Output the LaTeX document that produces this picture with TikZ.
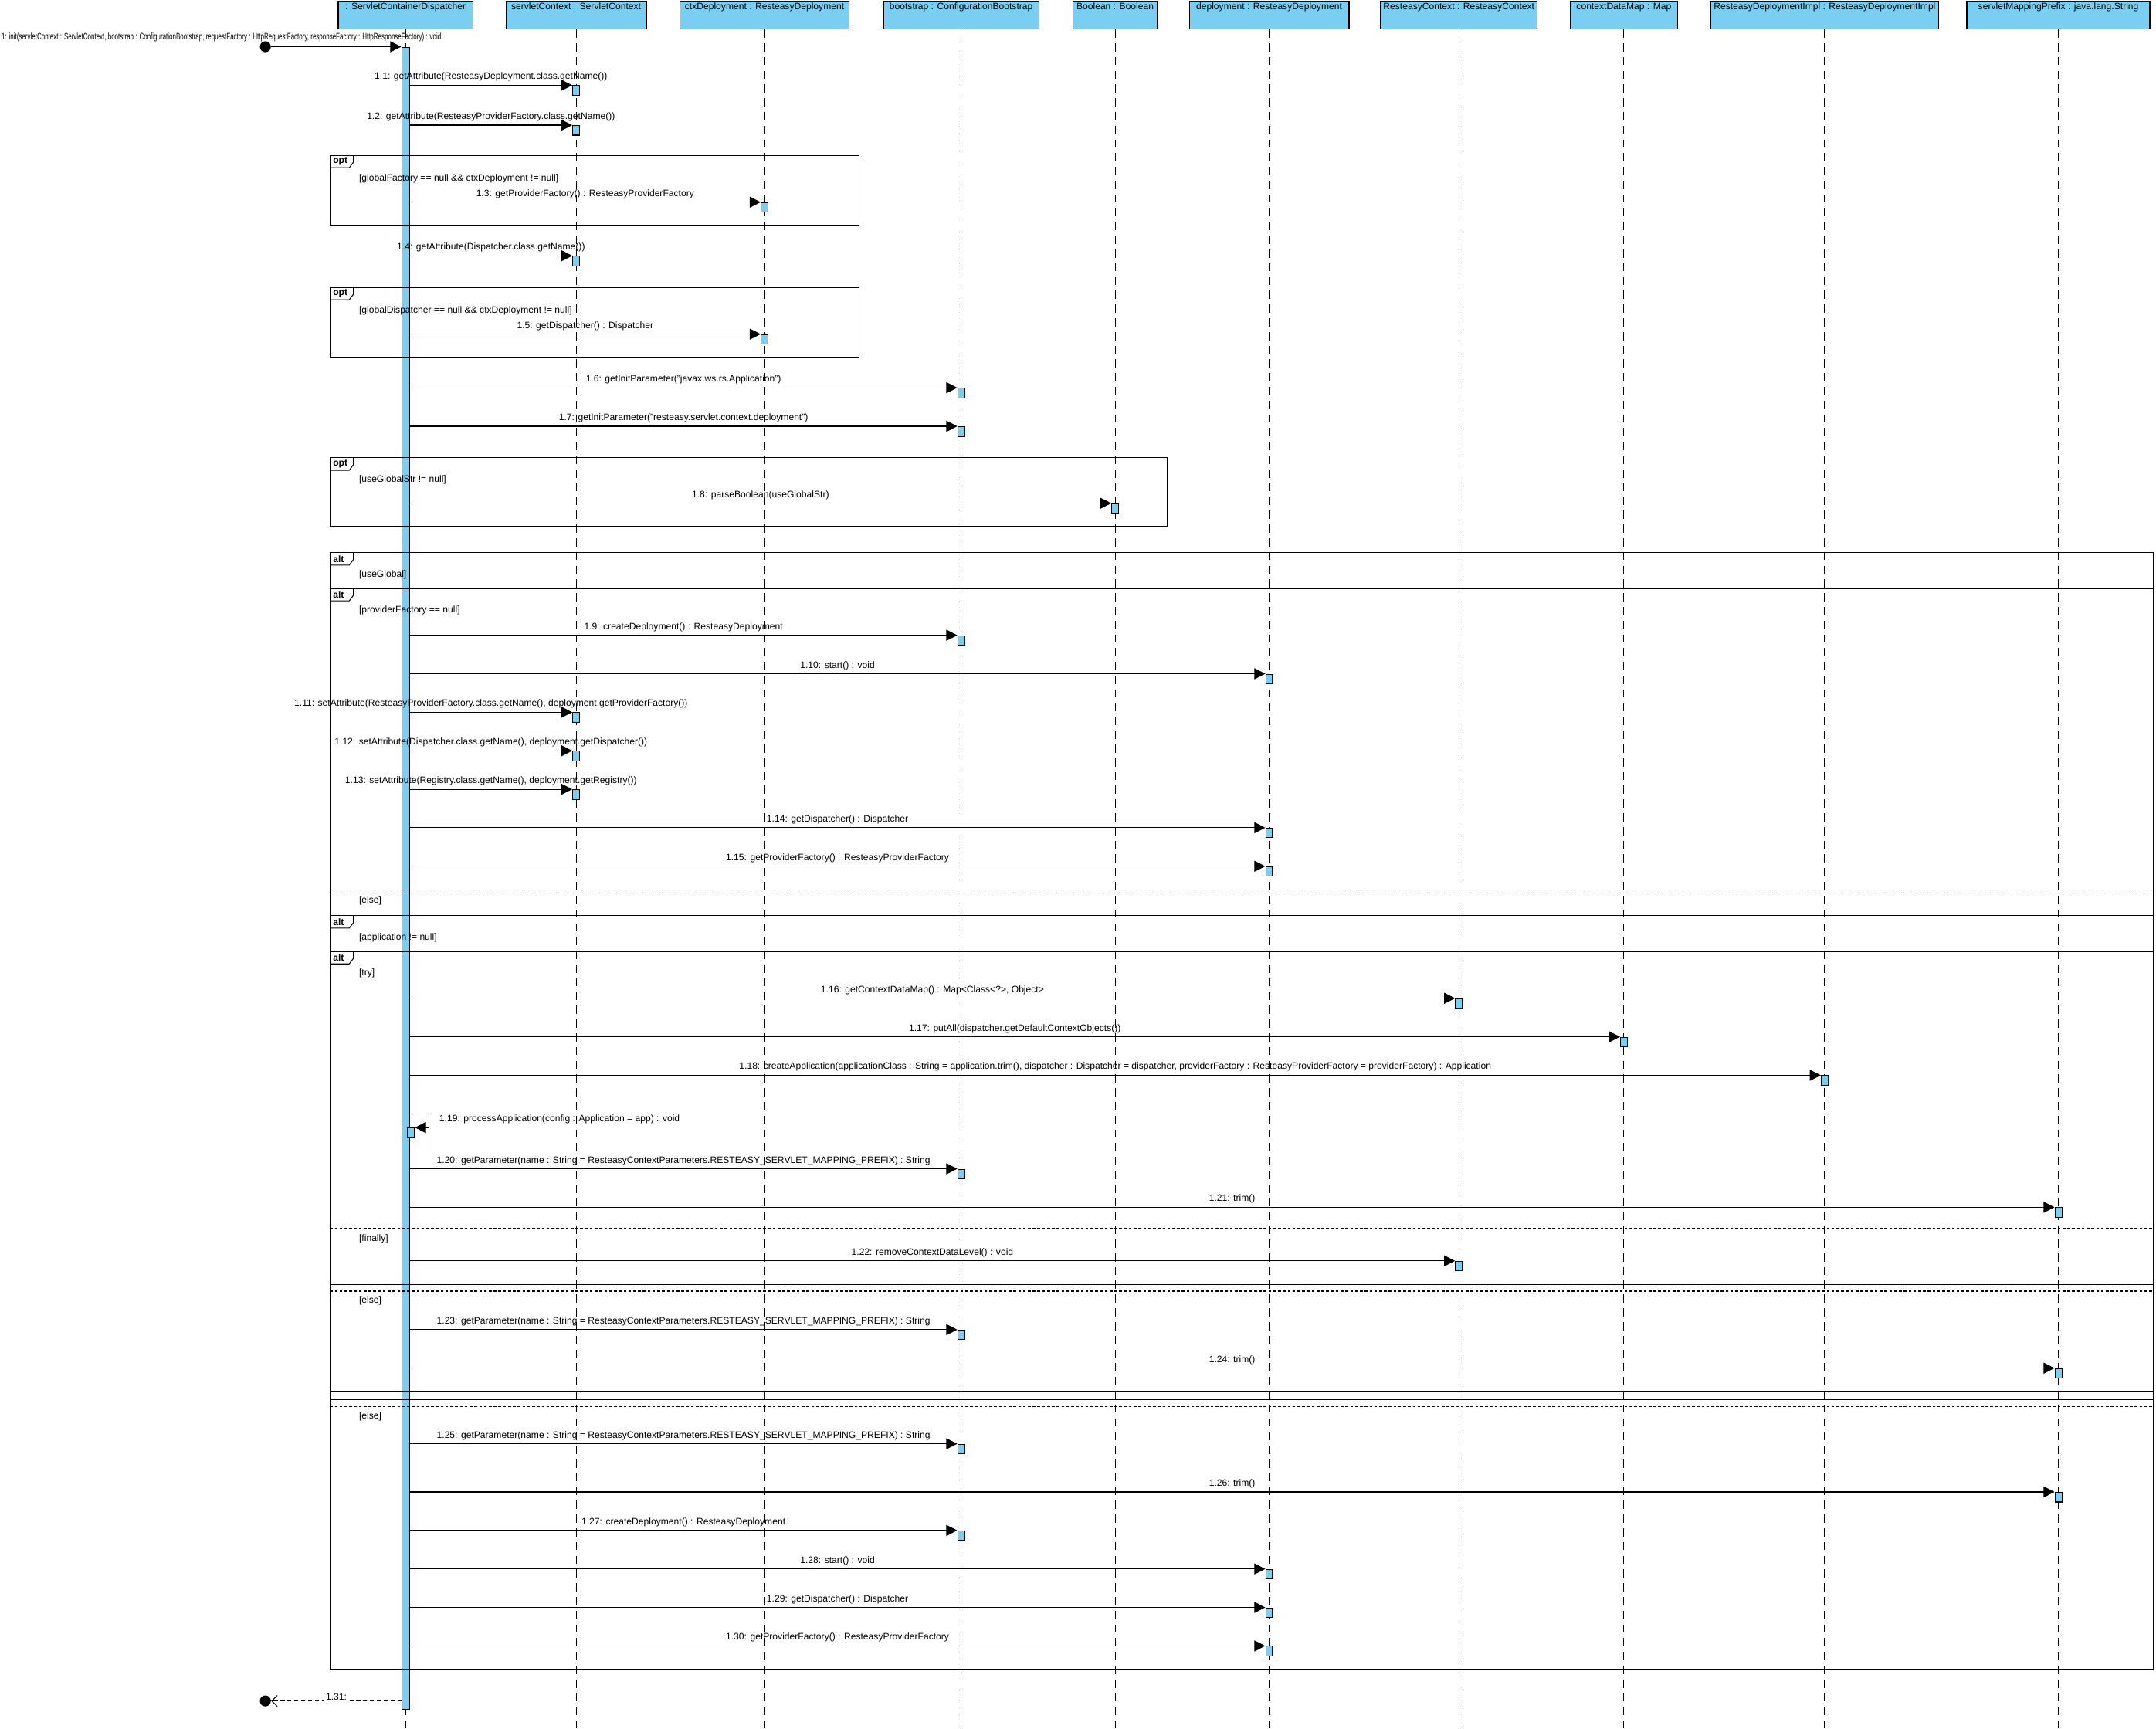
\documentclass[tikz,border=0pt]{standalone}
\usepackage{fontspec}
\setmainfont{Liberation Sans}
\usetikzlibrary{positioning,arrows.meta}

\definecolor{umlblue}{RGB}{122,206,242}

\begin{document}
\begin{tikzpicture}[x=1pt,y=-1pt,
  every node/.style={font=\fontsize{6.8}{8}\selectfont},
  head/.style={draw, line width=0.8pt, fill=umlblue, minimum height=20pt, inner sep=0pt},
  headtxt/.style={anchor=north, inner sep=1.5pt},
  lifeline/.style={line width=0.5pt, dash pattern=on 6pt off 4pt},
  actbox/.style={draw, line width=0.6pt, fill=umlblue, minimum width=5pt, minimum height=7pt, inner sep=0pt, anchor=north},
  msg/.style={line width=0.6pt, -{Triangle[length=8pt,width=8pt]}},
  ret/.style={line width=0.6pt, dash pattern=on 3pt off 2pt, -{Straight Barb[length=4pt,width=8pt]}},
  msglbl/.style={above=1.5pt, inner sep=1pt},
  frame/.style={line width=0.6pt},
  sep/.style={line width=0.6pt, dash pattern=on 2pt off 1.5pt},
  guard/.style={anchor=west, inner sep=0pt},
  tag/.style={font=\fontsize{6.8}{8}\selectfont\bfseries, anchor=west, inner sep=0pt}]
\useasboundingbox (0,0) rectangle (1568,1257);
\coordinate (bottom) at (0,1257);

% lifeline heads
\node[head, minimum width=98pt, label={[headtxt]north:{: ServletContainerDispatcher}}] (disp) at (295,11) {};
\node[head, minimum width=102pt, label={[headtxt]north:{servletContext : ServletContext}}] (svctx) at (419,11) {};
\node[head, minimum width=123pt, label={[headtxt]north:{ctxDeployment : ResteasyDeployment}}] (ctxdep) at (556,11) {};
\node[head, minimum width=113pt, label={[headtxt]north:{bootstrap : ConfigurationBootstrap}}] (boot) at (699,11) {};
\node[head, minimum width=61pt, label={[headtxt]north:{Boolean : Boolean}}] (bool) at (811,11) {};
\node[head, minimum width=116pt, label={[headtxt]north:{deployment : ResteasyDeployment}}] (dep) at (923,11) {};
\node[head, minimum width=114pt, label={[headtxt]north:{ResteasyContext : ResteasyContext}}] (rectx) at (1061,11) {};
\node[head, minimum width=78pt, label={[headtxt]north:{contextDataMap : Map}}] (cdmap) at (1181,11) {};
\node[head, minimum width=166pt, label={[headtxt]north:{ResteasyDeploymentImpl : ResteasyDeploymentImpl}}] (rdimpl) at (1327,11) {};
\node[head, minimum width=133pt, label={[headtxt]north:{servletMappingPrefix : java.lang.String}}] (smprefix) at (1497,11) {};

\foreach \h in {disp,svctx,ctxdep,boot,bool,dep,rectx,cdmap,rdimpl,smprefix}
  \draw[lifeline] (\h.south) -- (\h.south |- bottom);

% activation of the dispatcher
\node[draw, line width=0.5pt, fill=umlblue, minimum width=6pt, minimum height=1209pt, inner sep=0pt, anchor=north] (bar) at (295,34) {};

% combined fragments
\draw[frame] (240,113) rectangle (625,164);
\draw[frame] (240,209) rectangle (625,260);
\draw[frame] (240,333) rectangle (849,383);
\draw[frame] (240,402) rectangle (1566,1214);
\draw[frame] (240,428) rectangle (1566,1018);
\draw[frame] (240,666) rectangle (1566,1012);
\draw[frame] (240,692) rectangle (1566,934);
\foreach \fy/\fname in {113/opt,209/opt,333/opt,402/alt,428/alt,666/alt,692/alt}{
  \draw[frame] (240,\fy+9) -- (254,\fy+9) -- (257,\fy+5) -- (257,\fy);
  \node[tag] (tag\fy) at (242,\fy+4.5) {\fname};
}
\foreach \sy in {647,893,939,1023}
  \draw[sep] (240,\sy) -- (1566,\sy);

% guards
\node[guard] (g1) at (261,130) {[globalFactory == null \&\& ctxDeployment != null]};
\node[guard] (g2) at (261,226) {[globalDispatcher == null \&\& ctxDeployment != null]};
\node[guard] (g3) at (261,349) {[useGlobalStr != null]};
\node[guard] (g4) at (261,418) {[useGlobal]};
\node[guard] (g5) at (261,444) {[providerFactory == null]};
\node[guard] (g6) at (261,655) {[else]};
\node[guard] (g7) at (261,682) {[application != null]};
\node[guard] (g8) at (261,708) {[try]};
\node[guard] (g9) at (261,901) {[finally]};
\node[guard] (g10) at (261,946) {[else]};
\node[guard] (g11) at (261,1030) {[else]};

% found message
\node[circle, fill, inner sep=0pt, minimum size=8pt] (start) at (193,34) {};
\draw[msg] (start) -- (bar.north west);
\node[xscale=0.66] (initlbl) at (161,27) {1: init(servletContext : ServletContext, bootstrap : ConfigurationBootstrap, requestFactory : HttpRequestFactory, responseFactory : HttpResponseFactory) : void};

% calls
\foreach \y/\tx/\txt in {
  62/419/{1.1: getAttribute(ResteasyDeployment.class.getName())},
  91/419/{1.2: getAttribute(ResteasyProviderFactory.class.getName())},
  147/556/{1.3: getProviderFactory() : ResteasyProviderFactory},
  186/419/{1.4: getAttribute(Dispatcher.class.getName())},
  243/556/{1.5: getDispatcher() : Dispatcher},
  282/699/{1.6: getInitParameter("javax.ws.rs.Application")},
  310/699/{1.7: getInitParameter("resteasy.servlet.context.deployment")},
  366/811/{1.8: parseBoolean(useGlobalStr)},
  462/699/{1.9: createDeployment() : ResteasyDeployment},
  490/923/{1.10: start() : void},
  518/419/{1.11: setAttribute(ResteasyProviderFactory.class.getName(), deployment.getProviderFactory())},
  546/419/{1.12: setAttribute(Dispatcher.class.getName(), deployment.getDispatcher())},
  574/419/{1.13: setAttribute(Registry.class.getName(), deployment.getRegistry())},
  602/923/{1.14: getDispatcher() : Dispatcher},
  630/923/{1.15: getProviderFactory() : ResteasyProviderFactory},
  726/1061/{1.16: getContextDataMap() : Map<Class<?>, Object>},
  754/1181/{1.17: putAll(dispatcher.getDefaultContextObjects())},
  782/1327/{1.18: createApplication(applicationClass : String = application.trim(), dispatcher : Dispatcher = dispatcher, providerFactory : ResteasyProviderFactory = providerFactory) : Application},
  850/699/{1.20: getParameter(name : String = ResteasyContextParameters.RESTEASY\_SERVLET\_MAPPING\_PREFIX) : String},
  878/1497/{1.21: trim()},
  917/1061/{1.22: removeContextDataLevel() : void},
  967/699/{1.23: getParameter(name : String = ResteasyContextParameters.RESTEASY\_SERVLET\_MAPPING\_PREFIX) : String},
  995/1497/{1.24: trim()},
  1050/699/{1.25: getParameter(name : String = ResteasyContextParameters.RESTEASY\_SERVLET\_MAPPING\_PREFIX) : String},
  1085/1497/{1.26: trim()},
  1113/699/{1.27: createDeployment() : ResteasyDeployment},
  1141/923/{1.28: start() : void},
  1169/923/{1.29: getDispatcher() : Dispatcher},
  1197/923/{1.30: getProviderFactory() : ResteasyProviderFactory}}{
  \coordinate (src\y) at (298,\y);
  \node[actbox] (act\y) at (\tx,\y) {};
  \draw[msg] (src\y) -- node[msglbl] {\txt} (act\y.north west);
}

% self call
\coordinate (self) at (298,810);
\node[actbox] (act820) at (299,820) {};
\draw[msg] (self) -- (312,810) |- (act820.north east);
\node[anchor=west] (selflbl) at (316,814) {1.19: processApplication(config : Application = app) : void};

% return
\node[circle, fill, inner sep=0pt, minimum size=8pt] (finish) at (193,1237) {};
\coordinate (retsrc) at (292,1237);
\draw[ret] (retsrc) -- node[fill=white, inner sep=2pt, yshift=3pt] {1.31:} (finish);
\end{tikzpicture}
\end{document}
